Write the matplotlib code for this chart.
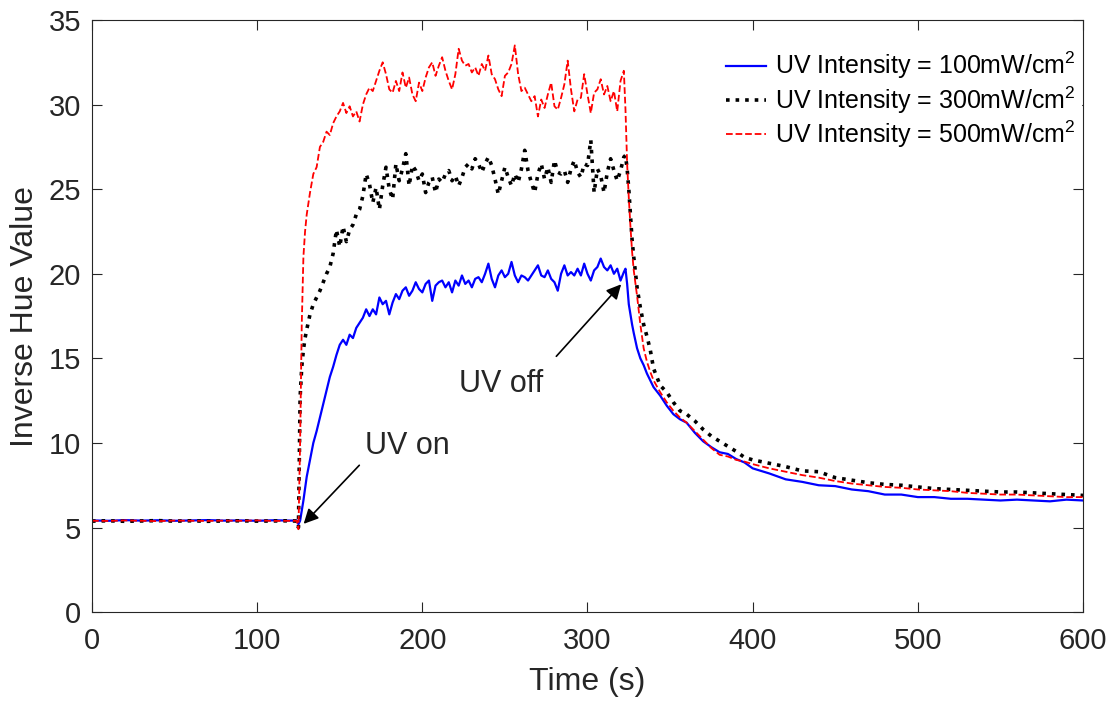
import numpy as np
import matplotlib.pyplot as plt

plt.rcParams['font.family'] = ['Liberation Sans', 'DejaVu Sans']
plt.rcParams['mathtext.fontset'] = 'custom'
plt.rcParams['mathtext.rm'] = 'Liberation Sans'

# time axis (s): before UV, onset, exposure, switch-off, recovery
t_pre = [0, 10, 20, 30, 40, 50, 60, 70, 80, 90, 100, 110, 120, 124]
t_on = [125, 126, 127, 128, 129, 130]
t_plat = list(range(132, 323, 2))
t_off = [323, 324, 325, 326, 327, 328, 330, 332, 334, 336, 338, 340]
t_decay = [344, 348, 352, 356, 360, 365, 370, 375, 380, 385, 390, 395, 400,
           410, 420, 430, 440, 450, 460, 470, 480, 490, 500, 510, 520, 530,
           540, 550, 560, 570, 580, 590, 600]
time_s = t_pre + t_on + t_plat + t_off + t_decay

# 100 mW/cm2
blue = [5.42, 5.40, 5.44, 5.41, 5.43, 5.40, 5.42, 5.44, 5.41, 5.42, 5.40, 5.43, 5.41, 5.42,
        5.2, 5.4, 6.0, 6.6, 7.3, 8.0,
        9.0, 10.0, 10.7, 11.5, 12.3, 13.1, 13.9, 14.5, 15.2, 15.8,
        16.1, 15.8, 16.4, 16.2, 16.8, 17.1, 17.4, 17.9, 17.5, 17.9,
        17.6, 18.6, 18.2, 18.4, 17.6, 18.3, 18.8, 18.5, 19.0, 19.2,
        18.7, 19.0, 19.5, 19.1, 18.9, 19.4, 19.6, 18.4, 19.3, 19.5,
        19.6, 19.2, 19.5, 18.9, 19.6, 19.3, 19.9, 19.4, 19.6, 19.2,
        19.7, 19.8, 19.5, 20.0, 20.6, 19.7, 19.2, 19.9, 20.2, 19.8,
        20.0, 20.7, 19.9, 19.5, 19.9, 19.8, 19.6, 19.9, 20.2, 20.5,
        19.9, 19.8, 20.2, 19.7, 19.5, 19.0, 20.0, 20.5, 19.9, 20.1,
        19.9, 20.3, 19.9, 20.6, 20.0, 19.6, 20.2, 20.4, 20.9, 20.4,
        20.2, 20.5, 20.0, 20.3, 19.6, 20.1,
        20.3, 19.4, 18.2, 17.6, 17.0, 16.5, 15.6, 15.0, 14.6, 14.1, 13.7, 13.3,
        12.8, 12.2, 11.7, 11.4, 11.2, 10.6, 10.1, 9.75, 9.45, 9.35, 9.05, 8.85, 8.5,
        8.2, 7.85, 7.7, 7.5, 7.45, 7.25, 7.15, 6.95, 6.95, 6.8, 6.8, 6.7, 6.7,
        6.65, 6.6, 6.65, 6.6, 6.55, 6.65, 6.6]

# 300 mW/cm2
black = [5.38, 5.40, 5.37, 5.39, 5.41, 5.38, 5.40, 5.37, 5.39, 5.40, 5.38, 5.39, 5.40, 5.38,
         5.0, 12.7, 14.5, 15.5, 16.2, 16.7,
         17.6, 18.2, 18.6, 19.0, 19.5, 20.0, 20.4, 21.2, 22.6, 21.6,
         22.8, 21.9, 22.6, 22.9, 23.5, 23.8, 24.6, 25.9, 25.3, 24.2,
         25.1, 23.8, 25.2, 26.3, 25.0, 24.4, 26.5, 25.5, 26.2, 27.1,
         25.2, 26.4, 26.1, 25.5, 25.9, 24.8, 25.4, 25.7, 24.8, 25.6,
         25.4, 25.9, 26.1, 25.5, 25.8, 25.2, 25.7, 26.3, 26.5, 26.2,
         26.8, 26.5, 26.0, 26.5, 26.9, 26.4, 25.6, 24.7, 25.5, 26.3,
         25.7, 25.2, 25.9, 25.4, 26.2, 27.3, 26.1, 25.4, 24.8, 25.9,
         26.5, 25.6, 26.3, 25.4, 26.7, 26.0, 25.9, 26.1, 25.4, 26.2,
         26.7, 26.0, 25.7, 26.5, 26.4, 27.9, 24.8, 26.2, 25.8, 24.8,
         26.0, 26.8, 26.1, 25.5, 26.1, 26.9,
         27.0, 26.2, 25.0, 23.5, 22.0, 21.0, 19.2, 18.0, 17.0, 16.3, 15.5, 14.4,
         13.4, 13.0, 12.4, 11.9, 11.7, 11.3, 10.8, 10.4, 10.1, 9.8, 9.5, 9.15, 9.0,
         8.8, 8.6, 8.35, 8.3, 7.95, 7.8, 7.65, 7.55, 7.5, 7.4, 7.3, 7.25, 7.2,
         7.15, 7.1, 7.1, 7.05, 7.0, 6.95, 6.9]

# 500 mW/cm2
red = [5.40, 5.39, 5.42, 5.40, 5.38, 5.41, 5.40, 5.39, 5.41, 5.40, 5.42, 5.39, 5.40, 5.40,
       4.9, 10.0, 17.0, 21.0, 22.5, 23.5,
       24.8, 25.9, 26.3, 27.5, 27.8, 28.4, 28.2, 28.9, 29.3, 29.6,
       30.1, 29.5, 29.9, 29.3, 29.6, 29.0, 30.0, 30.6, 31.0, 30.8,
       31.4, 32.0, 32.5, 31.8, 30.9, 30.7, 31.4, 30.8, 31.9, 31.0,
       31.6, 30.6, 30.2, 31.3, 30.8, 31.6, 32.2, 32.5, 31.7, 32.3,
       32.8, 32.0, 31.4, 30.9, 31.8, 33.3, 32.6, 32.3, 32.4, 31.9,
       32.2, 31.7, 32.4, 32.0, 32.9, 31.8, 31.5, 30.9, 30.5, 31.7,
       31.9, 32.4, 33.5, 31.8, 30.8, 31.0, 30.6, 30.2, 30.5, 29.3,
       30.3, 29.8, 30.6, 31.3, 29.9, 29.7, 30.4, 31.2, 32.6, 30.9,
       29.6, 30.3, 30.4, 31.8, 30.6, 29.5, 30.7, 30.9, 31.5, 30.6,
       31.1, 30.2, 30.8, 29.6, 31.4, 32.0,
       29.7, 26.5, 24.5, 22.8, 21.3, 20.2, 18.7, 17.0, 15.6, 14.8, 14.2, 13.7,
       13.0, 12.4, 11.9, 11.5, 11.2, 10.7, 10.2, 9.7, 9.3, 9.2, 9.0, 8.9, 8.75,
       8.5, 8.3, 8.1, 7.95, 7.75, 7.6, 7.5, 7.4, 7.35, 7.25, 7.2, 7.15, 7.05,
       7.0, 6.95, 6.95, 6.9, 6.85, 6.8, 6.8]

labels = ['UV Intensity = 100mW/cm$^2$',
          'UV Intensity = 300mW/cm$^2$',
          'UV Intensity = 500mW/cm$^2$']

fig = plt.figure(figsize=(11.11, 7.02), dpi=100)
ax = fig.add_axes([0.0828, 0.128, 0.892, 0.8435])

ax.plot(time_s, blue, '-', color='#0000ff', lw=1.6, label=labels[0])
ax.plot(time_s, black, ':', color='black', lw=2.6, label=labels[1])
ax.plot(time_s, red, '--', color='#ff0000', lw=1.3, label=labels[2])

ax.set_xlim(0, 600)
ax.set_ylim(0, 35)
ax.set_xticks([0, 100, 200, 300, 400, 500, 600])
ax.set_yticks([0, 5, 10, 15, 20, 25, 30, 35])
ax.tick_params(direction='in', length=7, width=0.8, labelsize=21,
               top=True, right=True, colors='#262626')
ax.tick_params(axis='x', pad=11)
ax.tick_params(axis='y', pad=8)
for s in ax.spines.values():
    s.set_color('#262626')
    s.set_linewidth(0.8)

ax.set_xlabel('Time (s)', fontsize=23, color='#262626', labelpad=8)
ax.set_ylabel('Inverse Hue Value', fontsize=23, color='#262626', labelpad=6)

# annotations
ax.annotate('', xy=(127, 5.1), xytext=(163, 8.8),
            arrowprops=dict(arrowstyle='-|>', color='black', lw=1.2, mutation_scale=22))
ax.text(165, 9.8, 'UV on', fontsize=22, ha='left', va='center', color='#262626')
ax.annotate('', xy=(321.5, 19.5), xytext=(280, 15.0),
            arrowprops=dict(arrowstyle='-|>', color='black', lw=1.2, mutation_scale=22))
ax.text(222, 13.5, 'UV off', fontsize=22, ha='left', va='center', color='#262626')

leg = ax.legend(loc='upper right', bbox_to_anchor=(1.0, 0.962), fontsize=18,
                frameon=True, fancybox=False, edgecolor='white', framealpha=1,
                handlelength=1.6, handletextpad=0.35, labelspacing=0.12,
                borderpad=0.2, borderaxespad=0.1)

fig.savefig('out.png', dpi=100)
